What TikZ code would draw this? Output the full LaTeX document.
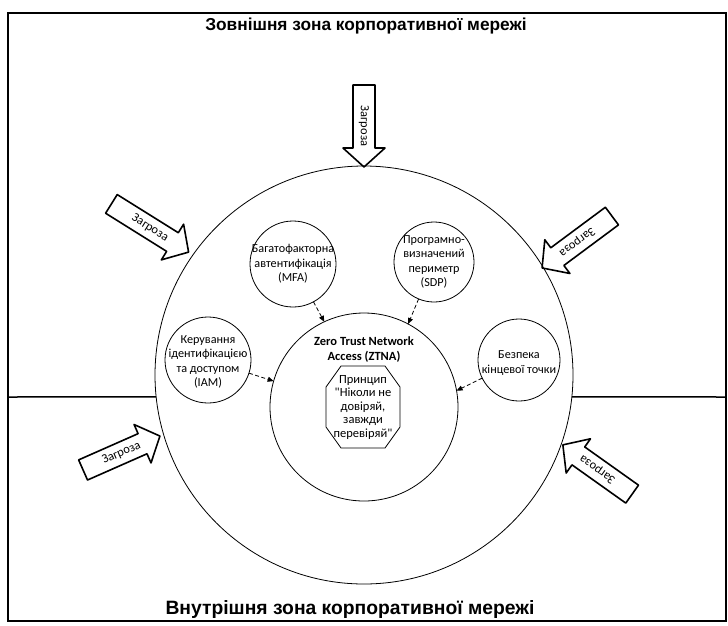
\documentclass[tikz,border=0pt]{standalone}
\usepackage{fontspec}
\setmainfont{Carlito}[Ligatures=TeXOff]
\newfontfamily\titlefont{Liberation Sans}
\usetikzlibrary{arrows.meta}
\begin{document}
\begin{tikzpicture}[x=1pt,y=-1pt,
  zone/.style={circle,draw,line width=0.8pt,inner sep=0pt,outer sep=0pt},
  lbl/.style={align=center,inner sep=0pt,font=\fontsize{12.2}{14.5}\selectfont},
  title/.style={inner sep=0pt,font=\titlefont\bfseries\fontsize{#1}{#1}\selectfont},
  conn/.style={draw,line width=0.8pt,dash pattern=on 4pt off 2.5pt,-{Triangle[length=6pt,width=5pt]}},
  threattxt/.style={inner sep=0pt,font=\fontsize{12.5}{12.5}\selectfont},
  threat/.style={draw,line width=1.6pt,line join=round}]
\useasboundingbox (0,0) rectangle (728,625);
% frame
\draw[line width=1.5pt] (8,13) rectangle (726,621);
\coordinate (fl) at (8,397);
\coordinate (fr) at (726,397);
% titles
\node[title=17.3] (top) at (366,26) {Зовнішня зона корпоративної мережі};
\node[title=19.3] (bottom) at (350,609) {Внутрішня зона корпоративної мережі};
% circles
\node[zone,minimum size=418pt] (outer) at (364,375) {};
\draw[line width=1.5pt] (fl) -- (outer.186);
\draw[line width=1.5pt] (outer.-6) -- (fr);
\node[zone,minimum size=188pt] (ztna) at (364,407) {};
\node[lbl,font=\bfseries\fontsize{12.5}{15}\selectfont] (ztnalbl) at (364,350) {Zero Trust Network\\Access (ZTNA)};
\node[lbl,font=\fontsize{12.5}{13.5}\selectfont] (princ) at (363,407) {Принцип\\"Ніколи не\\довіряй,\\завжди\\перевіряй"};
\draw[line width=0.8pt,shift={(princ.center)}] (-22,-41) -- (22,-41) -- (37,-20) -- (37,20) -- (22,41) -- (-22,41) -- (-37,20) -- (-37,-20) -- cycle;
\node[zone,minimum size=86pt] (mfa) at (293,264) {};
\node[lbl] (mfatxt) at (mfa.center) {Багатофакторна\\автентифікація\\(MFA)};
\node[zone,minimum size=80pt] (sdp) at (434,262) {};
\node[lbl] (sdptxt) at (sdp.center) {Програмно-\\визначений\\периметр\\(SDP)};
\node[zone,minimum size=86pt] (iam) at (208,360) {};
\node[lbl] (iamtxt) at (208,362) {Керування\\ідентифікацією\\та доступом\\(IAM)};
\node[zone,minimum size=82pt] (sec) at (519,360) {};
\node[lbl] (sectxt) at (519,363) {Безпека\\кінцевої точки};
% connectors
\draw[conn] (mfa) -- (ztna.115);
\draw[conn] (sdp) -- (ztna.62);
\draw[conn] (iam) -- (ztna.164);
\draw[conn] (sec) -- (ztna.10);
% threats
\foreach \n/\x/\y/\a/\l in {t1/364/126/-90/82, t2/150/228/-32/91, t3/577/242/-143.4/87, t4/121.5/453/23.8/84, t5/597.5/469.5/144.6/85}{
  \node[threattxt,rotate=\a] (\n) at (\x,\y) {Загроза};
  \draw[threat,shift={(\n.center)},rotate=\a]
    ({-\l/2},-11) -- ({\l/2-19},-11) -- ({\l/2-19},-21) -- ({\l/2},0)
    -- ({\l/2-19},21) -- ({\l/2-19},11) -- ({-\l/2},11) -- cycle;
}
\end{tikzpicture}
\end{document}
